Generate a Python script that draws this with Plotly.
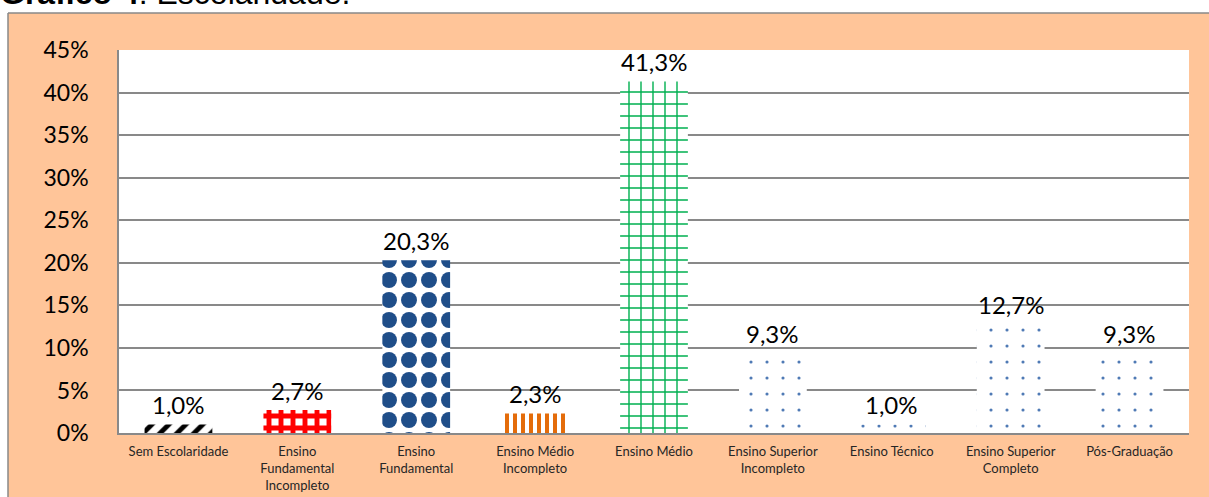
import plotly.graph_objects as go

categorias = ["Sem Escolaridade", "Ensino<br>Fundamental<br>Incompleto", "Ensino<br>Fundamental",
              "Ensino Médio<br>Incompleto", "Ensino Médio", "Ensino Superior<br>Incompleto",
              "Ensino Técnico", "Ensino Superior<br>Completo", "Pós-Graduação"]
valores = [1.0, 2.7, 20.3, 2.3, 41.3, 9.3, 1.0, 12.7, 9.3]
rotulos = ["1,0%", "2,7%", "20,3%", "2,3%", "41,3%", "9,3%", "1,0%", "12,7%", "9,3%"]
y_ticks = [0, 5, 10, 15, 20, 25, 30, 35, 40, 45]
y_ticktext = ["0%", "5%", "10%", "15%", "20%", "25%", "30%", "35%", "40%", "45%"]

pat_shape = ["/", "+", ".", "|", "+", ".", ".", ".", "."]
pat_fg = ["#000000", "#FF0000", "#1F4E89", "#E46C0A", "#00B050", "#4F7AB5", "#4F7AB5", "#4F7AB5", "#4F7AB5"]
pat_bg = ["white"] * 9
pat_size = [12, 12, 20, 8, 12, 16, 16, 16, 16]
pat_sol = [0.4, 0.65, 0.5, 0.5, 0.22, 0.03, 0.03, 0.03, 0.03]

PEACH = "#FFC599"
GRID = "#898989"
FONT = "Lato"

W, H = 1209, 497
ML, MR, MT, MB = 119, 20, 50, 64
PW, PH = W - ML - MR, H - MT - MB

def px_x(p):
    return (p - ML) / PW

def px_y(p):
    return (H - MB - p) / PH

fig = go.Figure()
fig.add_trace(go.Bar(
    x=categorias, y=valores, width=0.57,
    marker=dict(color="white", line=dict(width=0),
                pattern=dict(shape=pat_shape, fgcolor=pat_fg, bgcolor=pat_bg, fgopacity=1,
                             size=pat_size, solidity=pat_sol, fillmode="replace")),
    hoverinfo="skip",
))

for c, v, t in zip(categorias, valores, rotulos):
    fig.add_annotation(x=c, y=v, text=t, showarrow=False, yshift=20, yanchor="middle",
                       font=dict(family=FONT, size=24, color="black"))

fig.add_annotation(xref="paper", yref="paper", x=px_x(-2), y=px_y(13), xanchor="left", yanchor="bottom",
                   text="<b>Gráfico 4</b>: Escolaridade.", showarrow=False,
                   font=dict(family="Liberation Sans", size=32, color="black"))

shapes = [
    dict(type="rect", xref="paper", yref="paper", x0=px_x(-10), x1=px_x(W + 10), y0=px_y(13), y1=px_y(-30),
         fillcolor="white", line=dict(width=0), layer="below"),
    dict(type="rect", xref="paper", yref="paper", x0=px_x(-10), x1=px_x(8), y0=px_y(H + 10), y1=px_y(13),
         fillcolor="white", line=dict(width=0), layer="below"),
    dict(type="line", xref="paper", yref="paper", x0=px_x(8), x1=px_x(8), y0=px_y(H + 10), y1=px_y(13),
         line=dict(color=GRID, width=1.5)),
    dict(type="line", xref="paper", yref="paper", x0=px_x(8), x1=px_x(W + 10), y0=px_y(13), y1=px_y(13),
         line=dict(color=GRID, width=1.5)),
]

fig.update_layout(
    width=W, height=H,
    margin=dict(l=ML, r=MR, t=MT, b=MB, autoexpand=False),
    paper_bgcolor=PEACH, plot_bgcolor="white",
    showlegend=False,
    shapes=shapes,
    font=dict(family=FONT, color="black"),
)
fig.update_xaxes(type="category", showline=True, linecolor=GRID, linewidth=1.5, showgrid=False,
                 tickfont=dict(family=FONT, size=13, color="#262626"), ticks="", ticklabelstandoff=6)
fig.update_yaxes(range=[0, 45], tickvals=y_ticks, ticktext=y_ticktext, showgrid=True, gridcolor=GRID,
                 gridwidth=1.5, zeroline=False, showline=True, linecolor=GRID, linewidth=1.5,
                 tickfont=dict(family=FONT, size=23, color="black"), ticks="", ticklabelstandoff=24)

fig.write_html("out.html", config={"displayModeBar": False},
               post_script="document.body.style.margin='0';")
